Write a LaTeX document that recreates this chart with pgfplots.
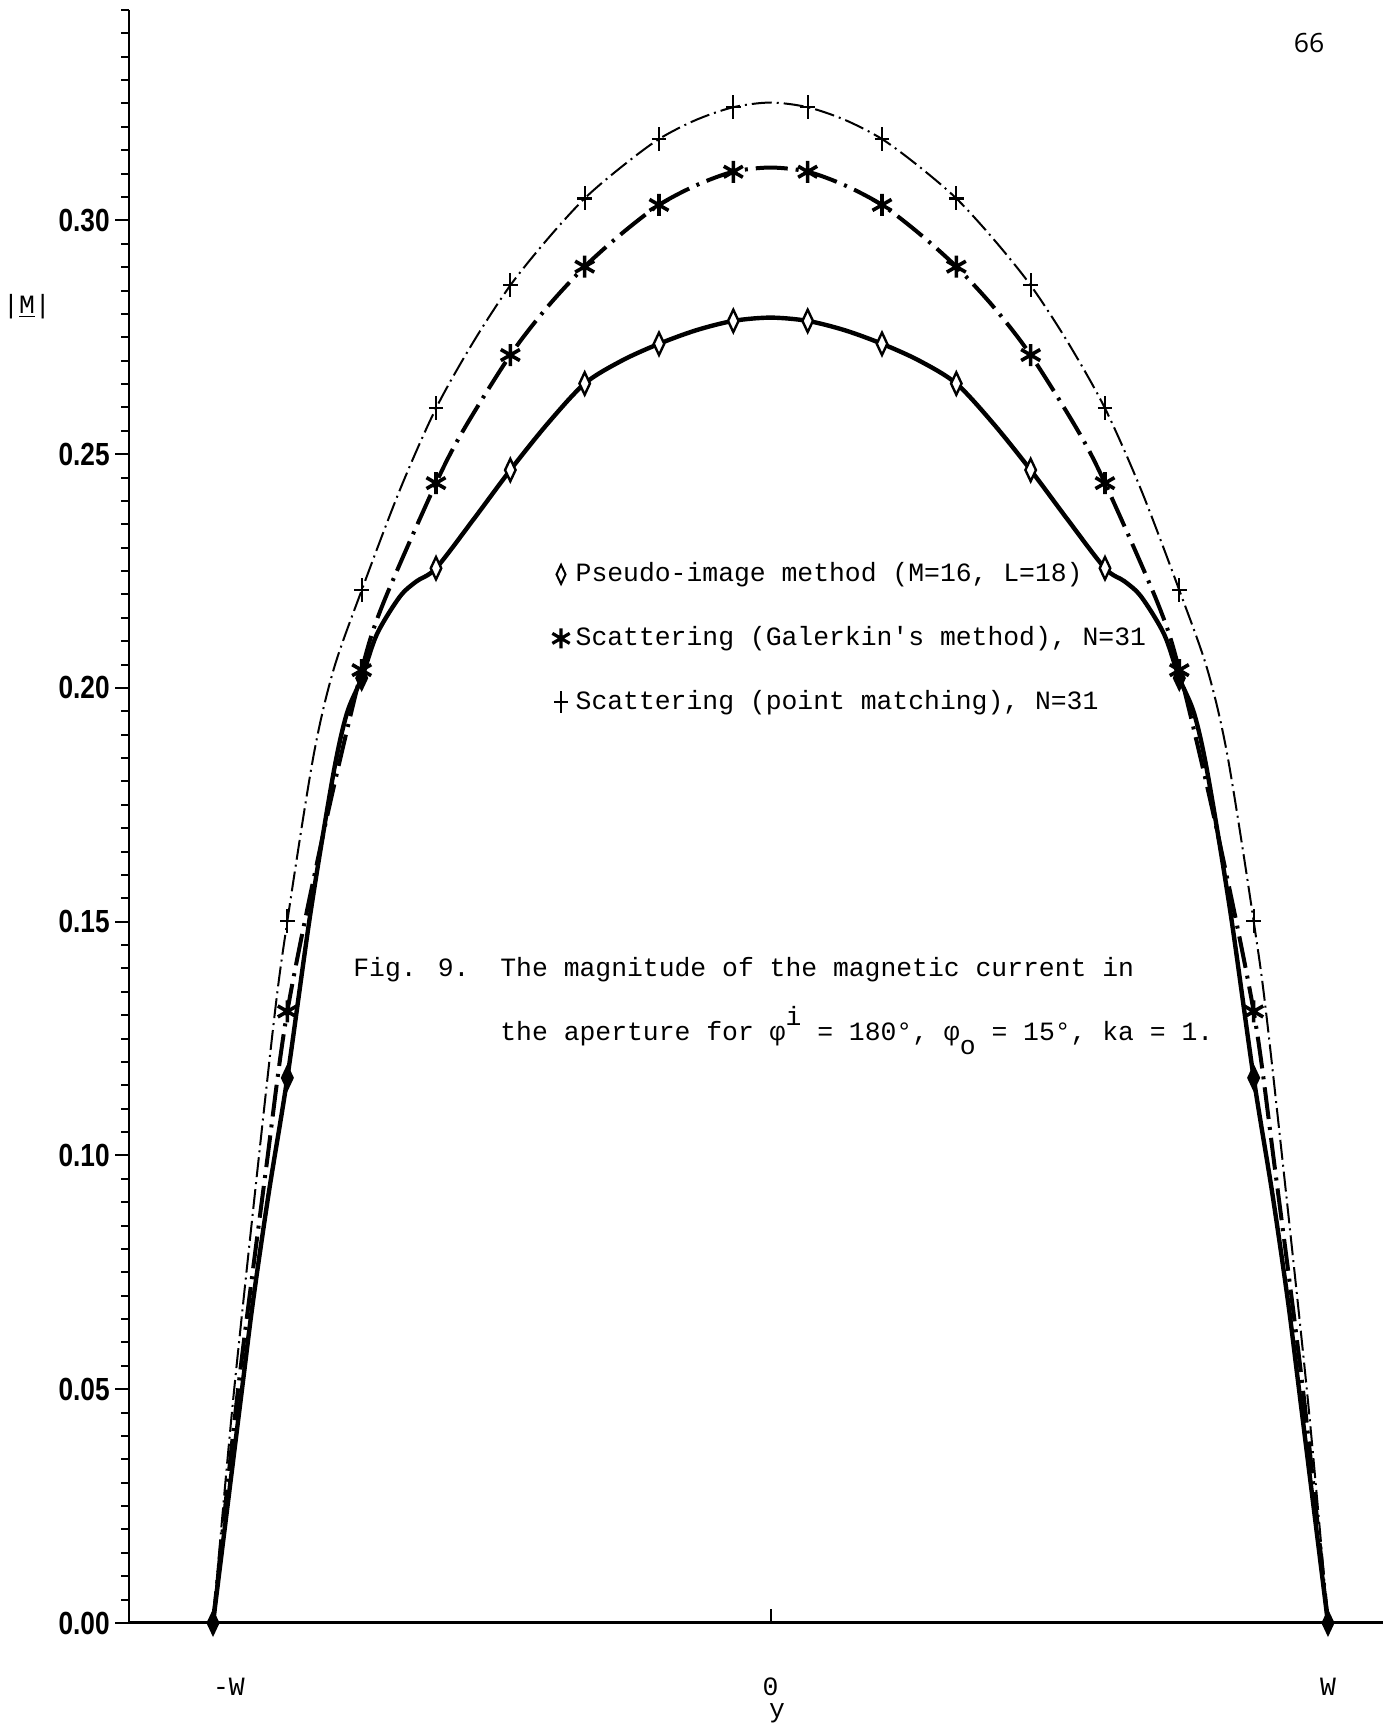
\documentclass[border=0pt]{standalone}
\usepackage{fontspec}
\usepackage{pgfplots}
\pgfplotsset{compat=1.18}
\newfontfamily\mono{Liberation Mono}
\newfontfamily\narrow{Liberation Sans}[FakeStretch=0.82]
\newfontfamily\pagefont{Open Sans}
\newcommand\typefont{\mono\fontsize{13.2}{15}\selectfont}
% legend entries show the bare mark only
\pgfplotsset{mark legend/.style={legend image code/.code={\draw[##1] plot coordinates {(0pt,0pt)};}}}

\begin{document}
\begin{tikzpicture}
\useasboundingbox (0pt,0pt) rectangle (698pt,864.5pt);
\begin{axis}[
  at={(64.5pt,53pt)}, anchor=south west,
  scale only axis, width=627pt, height=806.5pt,
  xmin=-1.1507, xmax=1.0987, ymin=0, ymax=0.345,
  axis x line=bottom, axis y line=left,
  x axis line style={-, line width=1.5pt},
  y axis line style={-, line width=1pt},
  clip=false,
  tick align=outside,
  major tick length=7pt, minor tick length=4pt,
  every tick/.style={black, line width=1pt},
  ytick={0,0.05,0.1,0.15,0.2,0.25,0.3},
  minor ytick={0,0.005,...,0.346},
  xtick={-1,0,1},
  xticklabels={\makebox[0pt][l]{-W},0,W},
  xtick style={yshift=7pt},
  xticklabel style={font=\typefont, anchor=base, yshift=-29pt},
  yticklabel style={font=\narrow\bfseries\fontsize{16}{16}\selectfont, inner xsep=2.5pt},
  /pgf/number format/fixed,
  /pgf/number format/fixed zerofill,
  /pgf/number format/precision=2,
  /pgf/number format/assume math mode=true,
  legend style={at={(0.3373,0.6584)}, anchor=north west, draw=none, fill=none,
    font=\typefont, row sep=19pt, inner sep=0pt,
    nodes={inner xsep=3pt, inner ysep=0pt, text height=10pt, text depth=3pt}},
  legend cell align=left,
]

% legend symbols
\addlegendimage{only marks, mark legend, mark=diamond*, mark size=3pt,
  mark options={yscale=1.6, line width=1pt, fill=white}}
\addlegendentry{Pseudo-image method (M=16, L=18)}
\addlegendimage{only marks, mark legend, mark=asterisk, mark size=5pt,
  mark options={line width=1.6pt}}
\addlegendentry{Scattering (Galerkin\textquotesingle s method), N=31}
\addlegendimage{only marks, mark legend, mark=+, mark size=5.5pt,
  mark options={xscale=0.6, line width=1pt}}
\addlegendentry{Scattering (point matching), N=31}

% point matching curve
\addplot[forget plot, smooth, line width=1pt,
  dash pattern=on 10pt off 2.5pt on 1pt off 2.5pt] coordinates {
  (-1,0) (-0.962,0.050) (-0.894,0.1254) (-0.8667,0.1501) (-0.82,0.1853)
  (-0.784,0.2038) (-0.7333,0.2209) (-0.665,0.2423) (-0.6,0.2598)
  (-0.533,0.2740) (-0.4667,0.2861) (-0.4,0.2960) (-0.3333,0.3047)
  (-0.2667,0.3115) (-0.2,0.3174) (-0.1333,0.3215) (-0.0667,0.3242)
  (0,0.3252)
  (0.0667,0.3242) (0.1333,0.3215) (0.2,0.3174) (0.2667,0.3115)
  (0.3333,0.3047) (0.4,0.2960) (0.4667,0.2861) (0.533,0.2740)
  (0.6,0.2598) (0.665,0.2423) (0.7333,0.2209) (0.784,0.2038)
  (0.82,0.1853) (0.8667,0.1501) (0.894,0.1254) (0.962,0.050) (1,0)};

% Galerkin curve
\addplot[forget plot, smooth, line width=2pt,
  dash pattern=on 16pt off 4pt on 1.5pt off 4pt] coordinates {
  (-1,0) (-0.955,0.050) (-0.905,0.097) (-0.8667,0.1308) (-0.8,0.170)
  (-0.7333,0.2038) (-0.695,0.218) (-0.6,0.2438) (-0.551,0.2551)
  (-0.4667,0.2712) (-0.4,0.2815) (-0.3333,0.2901) (-0.2667,0.2972)
  (-0.2,0.3033) (-0.1333,0.3075) (-0.0667,0.3104) (0,0.3113)
  (0.0667,0.3104) (0.1333,0.3075) (0.2,0.3033) (0.2667,0.2972)
  (0.3333,0.2901) (0.4,0.2815) (0.4667,0.2712) (0.551,0.2551)
  (0.6,0.2438) (0.695,0.218) (0.7333,0.2038) (0.8,0.170)
  (0.8667,0.1308) (0.905,0.097) (0.955,0.050) (1,0)};

% pseudo-image curve
\addplot[forget plot, smooth, line width=2.2pt] coordinates {
  (-1,0) (-0.948,0.050) (-0.928,0.069) (-0.90,0.092) (-0.8667,0.1166)
  (-0.825,0.152) (-0.784,0.1817) (-0.76,0.1945) (-0.7333,0.2021)
  (-0.706,0.2115) (-0.665,0.2195) (-0.635,0.2228) (-0.6,0.2256)
  (-0.533,0.2360) (-0.4667,0.2466) (-0.4,0.2565) (-0.3333,0.2651)
  (-0.2667,0.2700) (-0.2,0.2736) (-0.1333,0.2765) (-0.0667,0.2785)
  (0,0.2792)
  (0.0667,0.2785) (0.1333,0.2765) (0.2,0.2736) (0.2667,0.2700)
  (0.3333,0.2651) (0.4,0.2565) (0.4667,0.2466) (0.533,0.2360)
  (0.6,0.2256) (0.635,0.2228) (0.665,0.2195) (0.706,0.2115)
  (0.7333,0.2021) (0.76,0.1945) (0.784,0.1817) (0.825,0.152)
  (0.8667,0.1166) (0.90,0.092) (0.928,0.069) (0.948,0.050) (1,0)};

% point matching samples
\addplot[forget plot, only marks, mark=+, mark size=6pt,
  mark options={xscale=0.6, line width=1.1pt}] coordinates {
  (-0.8667,0.1501) (-0.7333,0.2209) (-0.6,0.2598) (-0.4667,0.2861)
  (-0.3333,0.3047) (-0.2,0.3174) (-0.0667,0.3242)
  (0.0667,0.3242) (0.2,0.3174) (0.3333,0.3047) (0.4667,0.2861)
  (0.6,0.2598) (0.7333,0.2209) (0.8667,0.1501)};

% Galerkin samples
\addplot[forget plot, only marks, mark=asterisk, mark size=5.5pt,
  mark options={line width=1.8pt}] coordinates {
  (-0.8667,0.1308) (-0.7333,0.2038) (-0.6,0.2438) (-0.4667,0.2712)
  (-0.3333,0.2901) (-0.2,0.3033) (-0.0667,0.3104)
  (0.0667,0.3104) (0.2,0.3033) (0.3333,0.2901) (0.4667,0.2712)
  (0.6,0.2438) (0.7333,0.2038) (0.8667,0.1308)};

% pseudo-image samples (open)
\addplot[forget plot, only marks, mark=diamond*, mark size=3.5pt,
  mark options={yscale=1.6, line width=1.2pt, fill=white}] coordinates {
  (-0.6,0.2256) (-0.4667,0.2466) (-0.3333,0.2651) (-0.2,0.2736)
  (-0.0667,0.2785) (0.0667,0.2785) (0.2,0.2736) (0.3333,0.2651)
  (0.4667,0.2466) (0.6,0.2256)};

% pseudo-image samples (solid, where curves crowd together)
\addplot[forget plot, only marks, mark=diamond*, mark size=3.5pt,
  mark options={yscale=1.6, line width=1.2pt, fill=black}] coordinates {
  (-1,0) (-0.8667,0.1166) (-0.7333,0.2021)
  (0.7333,0.2021) (0.8667,0.1166) (1,0)};
\end{axis}

% axis label, caption and page number
\node[font=\typefont, inner sep=0pt] at (13.5pt,711pt) {|\underline{M}|};
\node[font=\typefont, inner sep=0pt, anchor=base] at (388.5pt,5.5pt) {y};
\node[font=\typefont, inner sep=0pt, anchor=base west] at (176.5pt,376pt) {Fig. 9.};
\node[font=\typefont, inner sep=0pt, anchor=base west] at (250pt,376pt)
  {The magnitude of the magnetic current in};
\node[font=\typefont, inner sep=0pt, anchor=base west] at (250pt,344pt)
  {the aperture for φ\raisebox{0.6em}{i} = 180°, φ\raisebox{-0.5em}{o} = 15°, ka = 1.};
\node[font=\pagefont\fontsize{13.3}{15}\selectfont, inner sep=0pt] at (654.5pt,843pt) {66};
\end{tikzpicture}
\end{document}
